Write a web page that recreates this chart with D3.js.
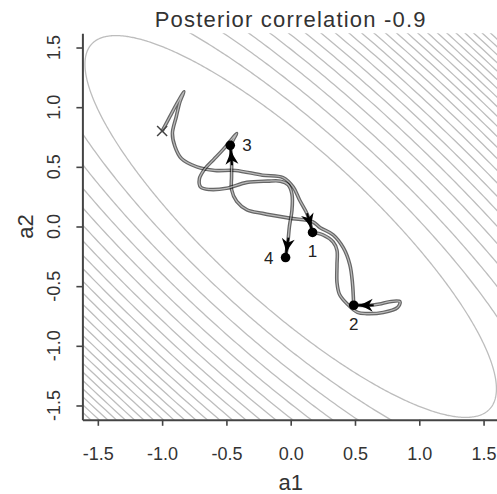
<!DOCTYPE html>
<html>
<head>
<meta charset="utf-8">
<script src="https://cdn.jsdelivr.net/npm/d3@7"></script>
<style>
    body { margin: 0; background: #fff; }
    text { font-family: "Liberation Sans", Arial, Helvetica, sans-serif; }
</style>
</head>
<body>
<div id="chart"></div>
<script>
let contourRho = -0.85;
// contour levels of the quadratic form
let contourLevels = [2.56, 3.91, 5.26, 6.61, 7.96, 9.31, 10.66, 12.01, 13.36, 14.71,
    16.06, 17.41, 18.76, 20.11, 21.46, 22.81, 24.16, 25.51, 26.86, 28.21,
    29.56, 30.91, 32.26, 33.61, 34.96];

let ticks = [-1.5, -1, -0.5, 0, 0.5, 1, 1.5];
let tickLabels = ["-1.5", "-1.0", "-0.5", "0.0", "0.5", "1.0", "1.5"];

let start = [-1.0, 0.8];

// HMC trajectories (a1, a2), each ends at the next sample
let traj1 = [[-1.00, 0.80], [-0.94, 0.92], [-0.88, 1.04], [-0.83, 1.13], [-0.86, 1.05], [-0.89, 0.92],
    [-0.92, 0.78], [-0.90, 0.67], [-0.85, 0.57], [-0.73, 0.50], [-0.59, 0.47], [-0.43, 0.47],
    [-0.22, 0.43], [-0.06, 0.41], [0.02, 0.33], [0.07, 0.22], [0.13, 0.10], [0.17, -0.05]];
let traj2 = [[0.17, -0.05], [0.25, -0.07], [0.33, -0.13], [0.36, -0.20], [0.36, -0.32], [0.36, -0.47],
    [0.38, -0.57], [0.44, -0.65], [0.52, -0.72], [0.59, -0.73], [0.72, -0.72], [0.83, -0.68],
    [0.85, -0.63], [0.77, -0.63], [0.69, -0.65], [0.62, -0.66], [0.49, -0.66]];
let traj3 = [[0.49, -0.66], [0.48, -0.47], [0.46, -0.32], [0.41, -0.18], [0.33, -0.07], [0.23, -0.01],
    [0.17, 0.04], [-0.01, 0.07], [-0.22, 0.11], [-0.34, 0.14], [-0.42, 0.21], [-0.46, 0.31],
    [-0.46, 0.42], [-0.46, 0.56], [-0.47, 0.68]];
let traj4 = [[-0.47, 0.68], [-0.44, 0.74], [-0.42, 0.78], [-0.46, 0.73], [-0.53, 0.64], [-0.60, 0.56],
    [-0.67, 0.48], [-0.71, 0.40], [-0.70, 0.33], [-0.63, 0.31], [-0.50, 0.32], [-0.34, 0.37],
    [-0.18, 0.38], [-0.08, 0.38], [-0.02, 0.35], [0.01, 0.27], [0.01, 0.14], [-0.01, 0.00],
    [-0.02, -0.11], [-0.04, -0.26]];
let trajectories = [traj1, traj2, traj3, traj4];
let sampleLabels = ["1", "2", "3", "4"];
let labelSide = ["below", "below", "right", "left"];

let width = 497, height = 494;

let x = d3.scaleLinear().domain([-1.62, 1.62]).range([82.4, 499]);
let y = d3.scaleLinear().domain([-1.62, 1.62]).range([419.8, 33.2]);

let svg = d3.select("#chart")
    .append("svg")
    .attr("width", width)
    .attr("height", height);

svg.append("clipPath")
    .attr("id", "plotclip")
    .append("rect")
    .attr("x", x(-1.62))
    .attr("y", y(1.62))
    .attr("width", x(1.62) - x(-1.62))
    .attr("height", y(-1.62) - y(1.62));

// contour ellipses
let theta = d3.range(0, 721).map(function (i) { return i / 720 * 2 * Math.PI; });
function ellipse(c) {
    let a = Math.sqrt(c * (1 - contourRho)), b = Math.sqrt(c * (1 + contourRho));
    return theta.map(function (t) {
        let u = a * Math.cos(t), v = b * Math.sin(t);
        return [(u + v) / Math.SQRT2, (v - u) / Math.SQRT2];
    });
}
let ellipseLine = d3.line()
    .x(function (d) { return x(d[0]); })
    .y(function (d) { return y(d[1]); });

svg.append("g")
    .attr("clip-path", "url(#plotclip)")
    .selectAll("path")
    .data(contourLevels)
    .enter()
    .append("path")
    .attr("d", function (c) { return ellipseLine(ellipse(c)); })
    .attr("fill", "none")
    .attr("stroke", "#bdbdbd")
    .attr("stroke-width", 1.3);

// axes (bty = "l")
let xAxis = svg.append("g")
    .attr("transform", "translate(0," + y(-1.62) + ")")
    .call(d3.axisBottom(x).tickValues(ticks)
        .tickFormat(function (d, i) { return tickLabels[i]; })
        .tickSizeInner(6).tickSizeOuter(0).tickPadding(21));
let yAxis = svg.append("g")
    .attr("transform", "translate(" + x(-1.62) + ",0)")
    .call(d3.axisLeft(y).tickValues(ticks).tickFormat("")
        .tickSizeInner(6).tickSizeOuter(0));

[xAxis, yAxis].forEach(function (ax) {
    ax.select(".domain").attr("stroke", "#444").attr("stroke-width", 2);
    ax.selectAll(".tick line").attr("stroke", "#444").attr("stroke-width", 1.6);
});
xAxis.selectAll(".tick text")
    .attr("font-size", 18)
    .attr("fill", "#333")
    .style("font-family", "'Liberation Sans', Arial, sans-serif");

svg.append("g")
    .selectAll("text")
    .data(ticks)
    .enter()
    .append("text")
    .attr("transform", function (d) { return "translate(60," + y(d) + ") rotate(-90)"; })
    .attr("text-anchor", "middle")
    .attr("font-size", 18)
    .attr("fill", "#333")
    .text(function (d, i) { return tickLabels[i]; });

// titles
svg.append("text")
    .attr("x", x(0))
    .attr("y", 27)
    .attr("text-anchor", "middle")
    .attr("font-size", 22)
    .attr("letter-spacing", 1.2)
    .attr("fill", "#333")
    .text("Posterior correlation -0.9");

svg.append("text")
    .attr("x", x(0))
    .attr("y", 490)
    .attr("text-anchor", "middle")
    .attr("font-size", 22)
    .attr("fill", "#333")
    .text("a1");

svg.append("text")
    .attr("transform", "translate(33," + y(0) + ") rotate(-90)")
    .attr("text-anchor", "middle")
    .attr("font-size", 22)
    .attr("fill", "#333")
    .text("a2");

// trajectories
let trajLine = d3.line()
    .x(function (d) { return x(d[0]); })
    .y(function (d) { return y(d[1]); })
    .curve(d3.curveCatmullRom.alpha(0.5));

let paths = svg.append("g");
trajectories.forEach(function (tr) {
    paths.append("path")
        .attr("d", trajLine(tr))
        .attr("fill", "none")
        .attr("stroke", "rgba(0,0,0,0.6)")
        .attr("stroke-width", 3.6)
        .attr("stroke-linejoin", "round");
    paths.append("path")
        .attr("d", trajLine(tr))
        .attr("fill", "none")
        .attr("stroke", "rgba(255,255,255,0.55)")
        .attr("stroke-width", 1.2);
});

// start marker
let sx = x(start[0]), sy = y(start[1]);
svg.append("path")
    .attr("d", "M" + (sx - 5) + "," + (sy - 5) + "L" + (sx + 5) + "," + (sy + 5) +
        "M" + (sx - 5) + "," + (sy + 5) + "L" + (sx + 5) + "," + (sy - 5))
    .attr("stroke", "#444")
    .attr("stroke-width", 1.5);

// arrows and samples
let marks = svg.append("g");
trajectories.forEach(function (tr, i) {
    let p1 = [x(tr[tr.length - 1][0]), y(tr[tr.length - 1][1])];
    let p0 = [x(tr[tr.length - 2][0]), y(tr[tr.length - 2][1])];
    let dx = p1[0] - p0[0], dy = p1[1] - p0[1];
    let len = Math.sqrt(dx * dx + dy * dy);
    dx /= len; dy /= len;
    let tip = [p1[0] - dx * 4, p1[1] - dy * 4];
    let angle = Math.atan2(dy, dx) * 180 / Math.PI;

    marks.append("line")
        .attr("x1", tip[0] - dx * 16).attr("y1", tip[1] - dy * 16)
        .attr("x2", p1[0]).attr("y2", p1[1])
        .attr("stroke", "#000")
        .attr("stroke-width", 2);
    marks.append("path")
        .attr("transform", "translate(" + tip[0] + "," + tip[1] + ") rotate(" + angle + ")")
        .attr("d", "M0,0 Q-7,-1.8 -15,-6.5 L-11,0 L-15,6.5 Q-7,1.8 0,0Z")
        .attr("fill", "#000");

    marks.append("circle")
        .attr("cx", p1[0])
        .attr("cy", p1[1])
        .attr("r", 4.8)
        .attr("fill", "#000");

    let lx = p1[0], ly = p1[1] + 6, anchor = "middle";
    if (labelSide[i] === "below") { ly = p1[1] + 25; }
    if (labelSide[i] === "right") { lx = p1[0] + 12; anchor = "start"; }
    if (labelSide[i] === "left") { lx = p1[0] - 12; anchor = "end"; }
    marks.append("text")
        .attr("x", lx)
        .attr("y", ly)
        .attr("text-anchor", anchor)
        .attr("font-size", 17)
        .attr("fill", "#222")
        .text(sampleLabels[i]);
});
</script>
</body>
</html>
